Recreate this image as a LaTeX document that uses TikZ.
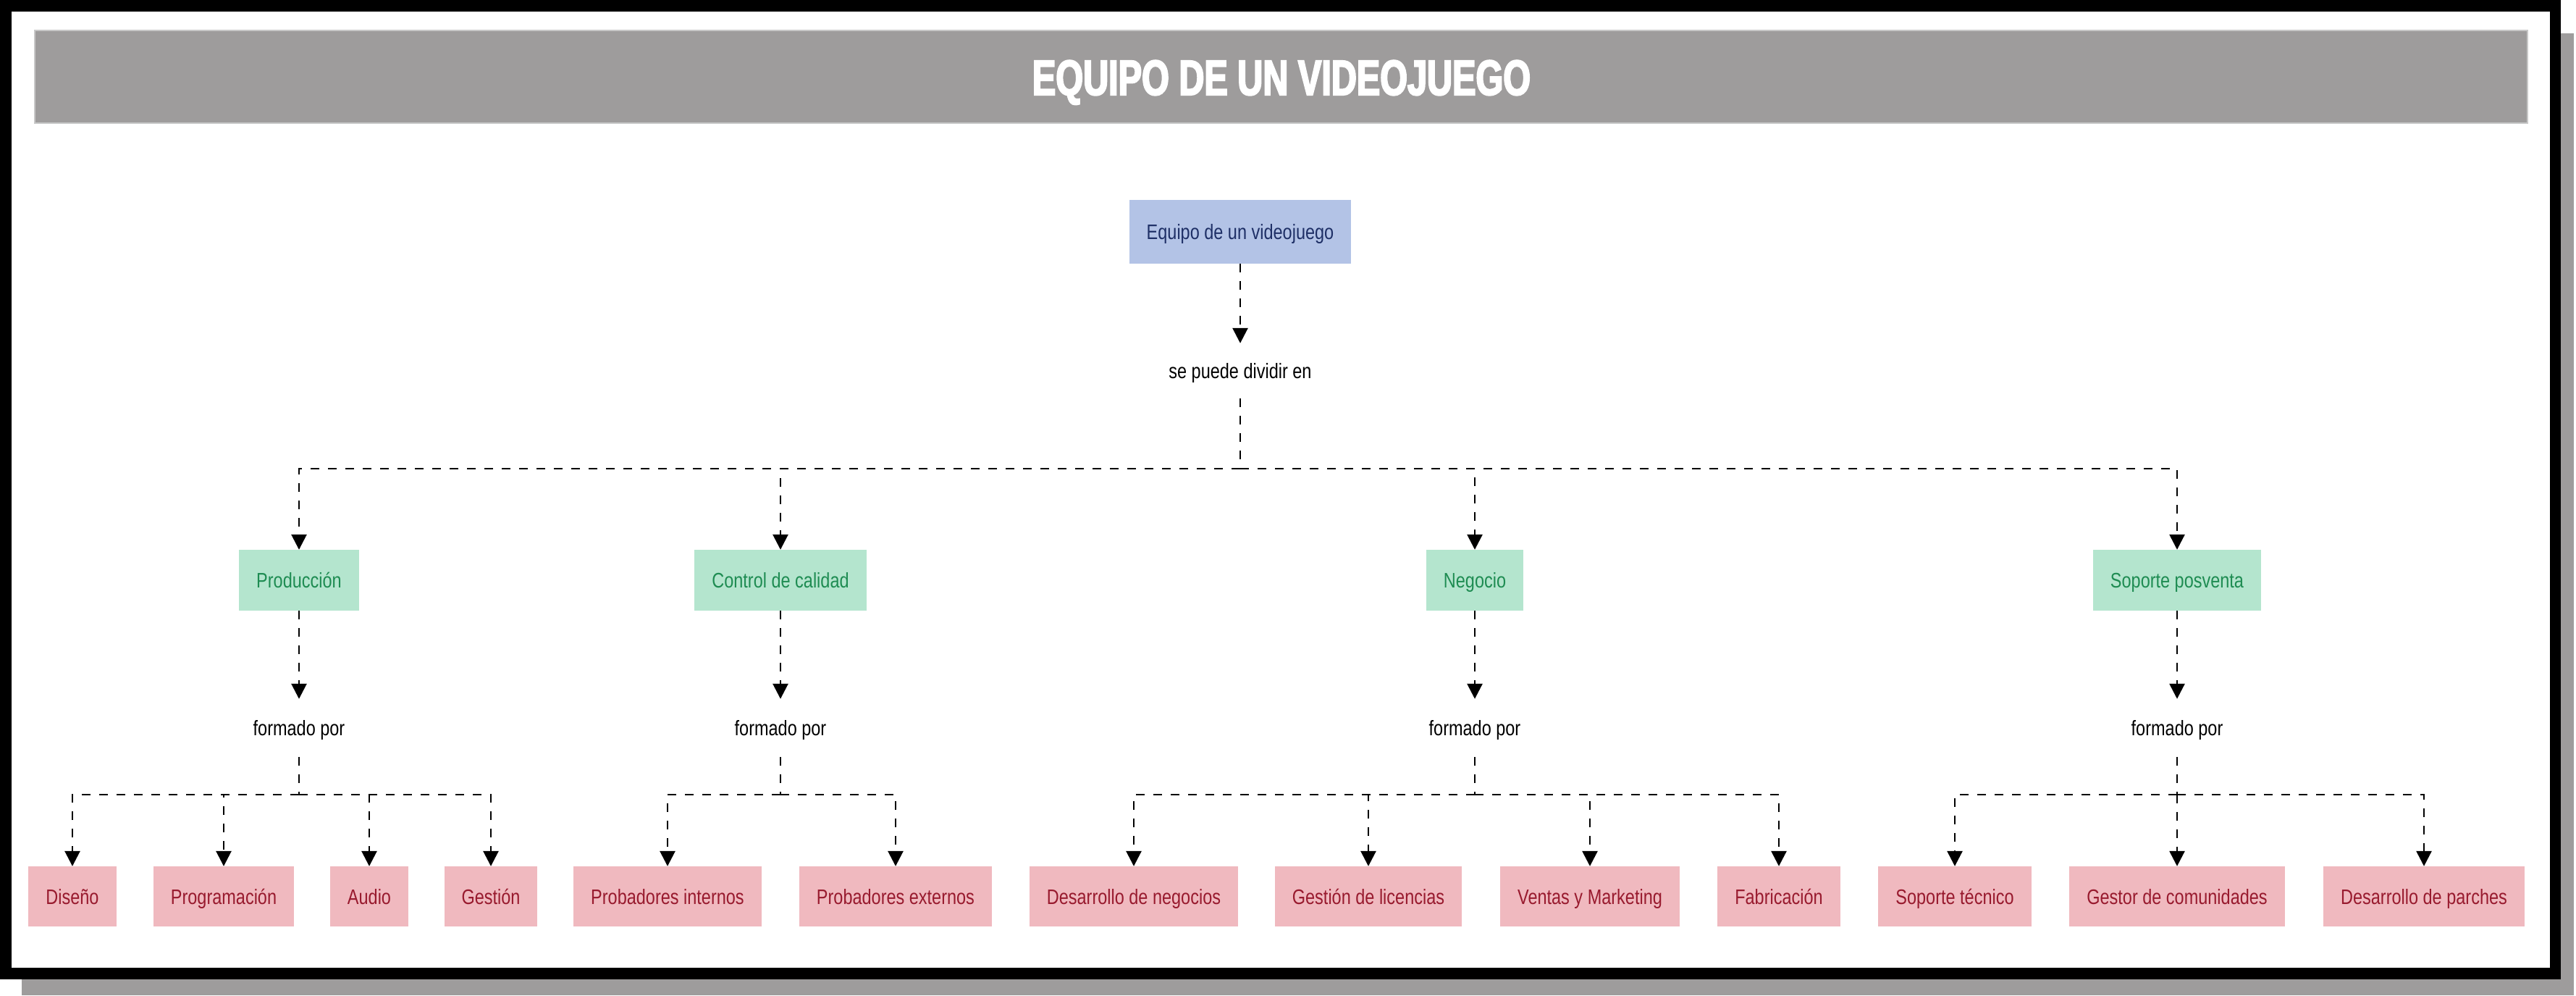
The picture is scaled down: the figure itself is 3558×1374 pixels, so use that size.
\documentclass[tikz,border=0pt]{standalone}
\usepackage{fontspec}
\setmainfont[FakeStretch=0.81]{Liberation Sans}
\newfontfamily\titlefont[FakeStretch=0.71,FakeBold=3]{Liberation Sans}
\usetikzlibrary{arrows.meta}
\definecolor{bargray}{RGB}{158,156,156}
\definecolor{barline}{RGB}{200,200,200}
\definecolor{rootfill}{RGB}{179,195,230}
\definecolor{roottext}{RGB}{30,47,102}
\definecolor{catfill}{RGB}{180,229,206}
\definecolor{cattext}{RGB}{30,140,82}
\definecolor{leaffill}{RGB}{240,185,191}
\definecolor{leaftext}{RGB}{152,26,46}
\tikzset{
  boxbase/.style={rectangle, inner xsep=24pt, inner ysep=0pt, text height=21pt, text depth=0pt,
    font=\fontsize{29pt}{34pt}\selectfont},
  rootbox/.style={boxbase, fill=rootfill, text=roottext, minimum height=88pt},
  catbox/.style={boxbase, fill=catfill, text=cattext, minimum height=84pt},
  leafbox/.style={boxbase, fill=leaffill, text=leaftext, minimum height=83pt},
  lblnode/.style={boxbase, text=black, minimum height=80pt},
  conn/.style={draw=black, line width=2.8pt, dash pattern=on 12pt off 12pt},
  arr/.style={conn, -{Triangle[length=21pt,width=21pt]}},
  titletext/.style={text=white, font=\titlefont\bfseries\fontsize{68.4pt}{80pt}\selectfont, inner sep=0pt}
}
\begin{document}
\begin{tikzpicture}[x=1pt,y=-1pt]
\useasboundingbox (0,0) rectangle (3558,1374);
% frame with shadow
\fill[bargray] (30,46) rectangle (3555,1374);
\fill[black] (0,0) rectangle (3537,1352);
\fill[white] (16,16) rectangle (3522,1336);
% title bar
\filldraw[fill=bargray, draw=barline, line width=1.5pt] (48,42) rectangle (3491,170);
\node[titletext, anchor=base] (title) at (1770,131) {EQUIPO DE UN VIDEOJUEGO};

% root
\node[rootbox] (root) at (1713,320) {Equipo de un videojuego};
\node[lblnode, minimum height=76pt] (lbl0) at (1713,512) {se puede dividir en};
\coordinate (b0) at (1713,647);

% categories
\node[catbox] (c1) at (413,801) {Producción};
\node[catbox] (c2) at (1078,801) {Control de calidad};
\node[catbox] (c3) at (2037,801) {Negocio};
\node[catbox] (c4) at (3007,801) {Soporte posventa};

% formado por labels
\node[lblnode] (f1) at (413,1005) {formado por};
\node[lblnode] (f2) at (1078,1005) {formado por};
\node[lblnode] (f3) at (2037,1005) {formado por};
\node[lblnode] (f4) at (3007,1005) {formado por};
\coordinate (b1) at (413,1097);
\coordinate (b2) at (1078,1097);
\coordinate (b3) at (2037,1097);
\coordinate (b4) at (3007,1097);

% leaves
\node[leafbox] (l11) at (100,1237.5) {Diseño};
\node[leafbox] (l12) at (309,1237.5) {Programación};
\node[leafbox] (l13) at (510,1237.5) {Audio};
\node[leafbox] (l14) at (678,1237.5) {Gestión};
\node[leafbox] (l21) at (922,1237.5) {Probadores internos};
\node[leafbox] (l22) at (1237,1237.5) {Probadores externos};
\node[leafbox] (l31) at (1566,1237.5) {Desarrollo de negocios};
\node[leafbox] (l32) at (1890,1237.5) {Gestión de licencias};
\node[leafbox] (l33) at (2196,1237.5) {Ventas y Marketing};
\node[leafbox] (l34) at (2457,1237.5) {Fabricación};
\node[leafbox] (l41) at (2700,1237.5) {Soporte técnico};
\node[leafbox] (l42) at (3007,1237.5) {Gestor de comunidades};
\node[leafbox] (l43) at (3348,1237.5) {Desarrollo de parches};

% connectors
\draw[arr] (root) -- (lbl0);
\draw[conn] (lbl0) -- (b0);
\foreach \c in {c1,c2,c3,c4} \draw[arr] (b0) -| (\c.north);
\foreach \i in {1,2,3,4} {
  \draw[arr] (c\i) -- (f\i);
  \draw[conn] (f\i) -- (b\i);
}
\foreach \l in {l11,l12,l13,l14} \draw[arr] (b1) -| (\l.north);
\foreach \l in {l21,l22} \draw[arr] (b2) -| (\l.north);
\foreach \l in {l31,l32,l33,l34} \draw[arr] (b3) -| (\l.north);
\foreach \l in {l41,l43} \draw[arr] (b4) -| (\l.north);
\draw[arr] (b4) -- (l42.north);
\end{tikzpicture}
\end{document}
